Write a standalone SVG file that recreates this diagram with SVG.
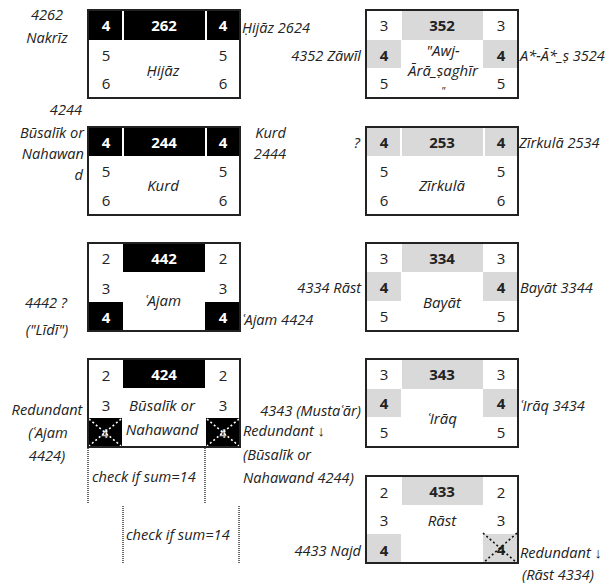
<svg xmlns="http://www.w3.org/2000/svg" width="608" height="583" viewBox="0 0 608 583">
<style>
text{font-family:"Open Sans","Noto Sans",sans-serif;dominant-baseline:central;fill:#222}
.c{font-size:15px;text-anchor:middle}
.b{font-weight:bold}
.w{fill:#fff}
.m{font-size:15px;font-style:italic;text-anchor:middle}
.l{font-size:14.6px;font-style:italic}
.e{text-anchor:end}
.mid{text-anchor:middle}
.frame{fill:none;stroke:#222;stroke-width:2}
.blk{fill:#000}
.gry{fill:#d9d9d9}
.sep{stroke:#fff;stroke-width:2}
.xw{stroke:#fff;stroke-width:1.6;stroke-dasharray:2,2.5}
.xb{stroke:#111;stroke-width:1.6;stroke-dasharray:2,2.5}
.dot{stroke:#444;stroke-width:1.6;stroke-dasharray:1,1}
.dim{fill:#bbb;font-size:12px}
</style>
<rect width="608" height="583" fill="#fff"/>

<g id="box-262">
<rect x="88" y="10" width="152" height="30" class="blk"/>
<line x1="123" y1="10" x2="123" y2="40" class="sep"/>
<line x1="206" y1="10" x2="206" y2="40" class="sep"/>
<rect x="88" y="10" width="152" height="88" class="frame"/>
<text x="106" y="25" class="c b w">4</text><text x="164" y="25" class="c b w">262</text><text x="223" y="25" class="c b w">4</text>
<text x="106" y="55" class="c">5</text><text x="223" y="55" class="c">5</text>
<text x="106" y="83" class="c">6</text><text x="223" y="83" class="c">6</text>
<text x="163" y="70" class="m">Ḥijāz</text>
</g>

<g id="box-244">
<rect x="88" y="127" width="152" height="29" class="blk"/>
<line x1="123" y1="127" x2="123" y2="156" class="sep"/>
<line x1="206" y1="127" x2="206" y2="156" class="sep"/>
<rect x="88" y="127" width="152" height="88" class="frame"/>
<text x="106" y="142" class="c b w">4</text><text x="164" y="142" class="c b w">244</text><text x="223" y="142" class="c b w">4</text>
<text x="106" y="171" class="c">5</text><text x="223" y="171" class="c">5</text>
<text x="106" y="200" class="c">6</text><text x="223" y="200" class="c">6</text>
<text x="163" y="185" class="m">Kurd</text>
</g>

<g id="box-442">
<rect x="123" y="243" width="82" height="29" class="blk"/>
<rect x="88" y="302" width="35" height="29" class="blk"/>
<rect x="205" y="302" width="35" height="29" class="blk"/>
<rect x="88" y="243" width="152" height="88" class="frame"/>
<text x="106" y="258" class="c">2</text><text x="164" y="258" class="c b w">442</text><text x="223" y="258" class="c">2</text>
<text x="106" y="288" class="c">3</text><text x="223" y="288" class="c">3</text>
<text x="106" y="317" class="c b w">4</text><text x="223" y="317" class="c b w">4</text>
<text x="163" y="300" class="m">ʿAjam</text>
</g>

<g id="box-424">
<rect x="123" y="359" width="82" height="29" class="blk"/>
<rect x="88" y="418" width="34" height="29" class="blk"/>
<rect x="206" y="418" width="34" height="29" class="blk"/>
<text x="105" y="433" class="c b dim">4</text><text x="223" y="433" class="c b dim">4</text>
<line x1="89" y1="419" x2="121" y2="446" class="xw"/><line x1="121" y1="419" x2="89" y2="446" class="xw"/>
<line x1="207" y1="419" x2="239" y2="446" class="xw"/><line x1="239" y1="419" x2="207" y2="446" class="xw"/>
<rect x="88" y="359" width="152" height="88" class="frame"/>
<text x="106" y="375" class="c">2</text><text x="164" y="374" class="c b w">424</text><text x="223" y="375" class="c">2</text>
<text x="106" y="405" class="c">3</text><text x="223" y="405" class="c">3</text>
<text x="162" y="405" class="m">Būsalīk or</text>
<text x="162" y="429" class="m">Nahawand</text>
</g>

<g id="box-352">
<rect x="402" y="10" width="81" height="30" class="gry"/>
<rect x="366" y="40" width="35" height="28" class="gry"/>
<rect x="483" y="40" width="35" height="28" class="gry"/>
<rect x="366" y="10" width="152" height="88" class="frame"/>
<text x="384" y="25" class="c">3</text><text x="442" y="25" class="c b">352</text><text x="501" y="25" class="c">3</text>
<text x="384" y="55" class="c b">4</text><text x="501" y="55" class="c b">4</text>
<text x="384" y="83" class="c">5</text><text x="501" y="83" class="c">5</text>
<text x="443" y="50" class="m">"Awj-</text>
<text x="443" y="70" class="m">Ārā_ṣaghīr</text>
<text x="443" y="90" class="m" style="font-size:11px">"</text>
</g>

<g id="box-253">
<rect x="366" y="127" width="152" height="29" class="gry"/>
<line x1="401" y1="127" x2="401" y2="156" class="sep"/>
<line x1="484" y1="127" x2="484" y2="156" class="sep"/>
<rect x="366" y="127" width="152" height="88" class="frame"/>
<text x="384" y="142" class="c b">4</text><text x="442" y="142" class="c b">253</text><text x="501" y="142" class="c b">4</text>
<text x="384" y="171" class="c">5</text><text x="501" y="171" class="c">5</text>
<text x="384" y="200" class="c">6</text><text x="501" y="200" class="c">6</text>
<text x="442" y="185" class="m">Zīrkulā</text>
</g>

<g id="box-334">
<rect x="402" y="243" width="81" height="29" class="gry"/>
<rect x="366" y="272" width="35" height="29" class="gry"/>
<rect x="483" y="272" width="35" height="29" class="gry"/>
<rect x="366" y="243" width="152" height="88" class="frame"/>
<text x="384" y="258" class="c">3</text><text x="442" y="258" class="c b">334</text><text x="501" y="258" class="c">3</text>
<text x="384" y="287" class="c b">4</text><text x="501" y="287" class="c b">4</text>
<text x="384" y="316" class="c">5</text><text x="501" y="316" class="c">5</text>
<text x="442" y="302" class="m">Bayāt</text>
</g>

<g id="box-343">
<rect x="402" y="359" width="81" height="30" class="gry"/>
<rect x="366" y="389" width="35" height="28" class="gry"/>
<rect x="483" y="389" width="35" height="28" class="gry"/>
<rect x="366" y="359" width="152" height="88" class="frame"/>
<text x="384" y="374" class="c">3</text><text x="442" y="374" class="c b">343</text><text x="501" y="374" class="c">3</text>
<text x="384" y="403" class="c b">4</text><text x="501" y="403" class="c b">4</text>
<text x="384" y="432" class="c">5</text><text x="501" y="432" class="c">5</text>
<text x="442" y="418" class="m">ʿIrāq</text>
</g>

<g id="box-433">
<rect x="402" y="476" width="81" height="29" class="gry"/>
<rect x="366" y="534" width="35" height="29" class="gry"/>
<rect x="483" y="534" width="35" height="29" class="gry"/>
<text x="384" y="492" class="c">2</text><text x="442" y="491" class="c b">433</text><text x="501" y="492" class="c">2</text>
<text x="384" y="520" class="c">3</text><text x="501" y="520" class="c">3</text>
<text x="384" y="550" class="c b">4</text><text x="501" y="549" class="c b">4</text>
<line x1="483" y1="533" x2="517" y2="563" class="xb"/><line x1="517" y1="533" x2="483" y2="563" class="xb"/>
<rect x="366" y="476" width="152" height="87" class="frame"/>
<text x="442" y="520" class="m">Rāst</text>
</g>

<g id="connectors">
<line x1="88" y1="448" x2="88" y2="504" class="dot"/>
<line x1="205" y1="448" x2="205" y2="504" class="dot"/>
<line x1="123" y1="506" x2="123" y2="563" class="dot"/>
<line x1="239" y1="506" x2="239" y2="563" class="dot"/>
</g>

<g id="labels">
<text x="47" y="14" class="l mid">4262</text>
<text x="47" y="37" class="l mid">Nakrīz</text>
<text x="242" y="27" class="l">Ḥijāz 2624</text>
<text x="82" y="109" class="l e">4244</text>
<text x="84" y="132" class="l e">Būsalīk or</text>
<text x="84" y="153" class="l e">Nahawan</text>
<text x="83" y="174" class="l e">d</text>
<text x="286" y="132" class="l e">Kurd</text>
<text x="286" y="153" class="l e">2444</text>
<text x="46" y="302" class="l mid">4442 ?</text>
<text x="47" y="329" class="l mid">("Līdī")</text>
<text x="242" y="319" class="l">ʿAjam 4424</text>
<text x="47" y="409" class="l mid">Redundant</text>
<text x="48" y="432" class="l mid">(ʿAjam</text>
<text x="47" y="455" class="l mid">4424)</text>
<text x="361" y="410" class="l e">4343 (Mustaʿār)</text>
<text x="243" y="430" class="l">Redundant ↓</text>
<text x="243" y="454" class="l">(Būsalīk or</text>
<text x="243" y="477" class="l">Nahawand 4244)</text>
<text x="92" y="476" class="l">check if sum=14</text>
<text x="126" y="534" class="l">check if sum=14</text>
<text x="361" y="55" class="l e">4352 Zāwīl</text>
<text x="520" y="55" class="l">A*-Ā*_ṣ 3524</text>
<text x="360" y="142" class="l e">?</text>
<text x="519" y="142" class="l">Zīrkulā 2534</text>
<text x="361" y="287" class="l e">4334 Rāst</text>
<text x="520" y="287" class="l">Bayāt 3344</text>
<text x="520" y="405" class="l">ʿIrāq 3434</text>
<text x="361" y="550" class="l e">4433 Najd</text>
<text x="520" y="552" class="l">Redundant ↓</text>
<text x="522" y="574" class="l">(Rāst 4334)</text>
</g>
</svg>
